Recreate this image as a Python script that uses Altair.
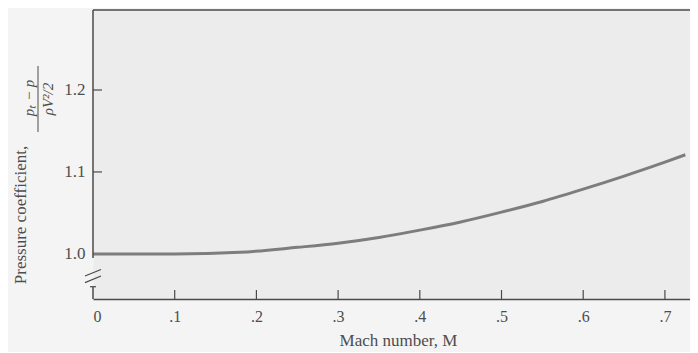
import altair as alt
import pandas as pd

# Curve
mach = [0.0, 0.10, 0.18, 0.25, 0.30, 0.35, 0.40, 0.45, 0.50, 0.55, 0.60, 0.65, 0.70, 0.725]
cp = [1.000, 1.000, 1.002, 1.008, 1.013, 1.020, 1.029, 1.039, 1.051, 1.064, 1.079, 1.095, 1.112, 1.121]

x_ticks = [0.0, 0.1, 0.2, 0.3, 0.4, 0.5, 0.6, 0.7]
x_inner_ticks = [0.1, 0.2, 0.3, 0.4, 0.5, 0.6, 0.7]
y_ticks = [1.0, 1.1, 1.2]
y_inner_ticks = [1.1, 1.2]

W, H = 597, 289
XMAX = 0.7307
YMIN, YMAX = 0.945, 1.2976
FONT = "Liberation Serif"
AX = "#4a4a4a"
TXT = "#4d4d4d"

xs = alt.Scale(domain=[0, XMAX], nice=False, zero=False)
ys = alt.Scale(domain=[YMIN, YMAX], nice=False, zero=False)

curve = pd.DataFrame({"M": mach, "Cp": cp})

line = alt.Chart(curve).mark_line(color="#7d7d7d", strokeWidth=3, interpolate="monotone").encode(
    x=alt.X("M:Q", scale=xs,
            axis=alt.Axis(values=x_ticks, format=".1f", tickSize=0, domain=True, domainColor=AX, domainWidth=1.5,
                          labelExpr="datum.value == 0 ? '0' : replace(datum.label, '0.', '.')",
                          labelFont=FONT, labelFontSize=16, labelColor=TXT, labelPadding=9,
                          grid=False, title="Mach number, M", titleFont=FONT, titleFontSize=17,
                          titleFontWeight="normal", titleColor=TXT, titlePadding=8, titleX=305)),
    y=alt.Y("Cp:Q", scale=ys,
            axis=alt.Axis(values=y_ticks, format=".1f", tickSize=0, domain=False, grid=False,
                          labelFont=FONT, labelFontSize=17, labelColor=TXT, labelPadding=8),
            title=None),
)

# inward ticks on x
xt = alt.Chart(pd.DataFrame({"t": x_inner_ticks})).mark_rule(color=AX, strokeWidth=1.2).encode(
    x=alt.X("t:Q", scale=xs), y=alt.value(H), y2=alt.value(H - 9))
# inward ticks on y
yt = alt.Chart(pd.DataFrame({"t": y_inner_ticks})).mark_rule(color=AX, strokeWidth=1.2).encode(
    y=alt.Y("t:Q", scale=ys), x=alt.value(0), x2=alt.value(9))

base = alt.Chart(pd.DataFrame({"a": [0]}))
# top border
top = base.mark_rule(color=AX, strokeWidth=1.5).encode(x=alt.value(0), x2=alt.value(W), y=alt.value(0))
# left axis with break
left_up = base.mark_rule(color=AX, strokeWidth=1.5).encode(
    x=alt.value(0), y=alt.datum(YMAX, scale=ys), y2=alt.datum(0.995))
left_low = base.mark_rule(color=AX, strokeWidth=1.5).encode(
    x=alt.value(0), y=alt.datum(0.960, scale=ys), y2=alt.datum(YMIN))
cap = base.mark_rule(color=AX, strokeWidth=1.2).encode(
    x=alt.value(-3), x2=alt.value(3), y=alt.datum(0.960, scale=ys))
slash1 = base.mark_rule(color=AX, strokeWidth=1.2).encode(
    x=alt.value(-8), x2=alt.value(8), y=alt.datum(0.973, scale=ys), y2=alt.datum(0.981))
slash2 = base.mark_rule(color=AX, strokeWidth=1.2).encode(
    x=alt.value(-8), x2=alt.value(8), y=alt.datum(0.965, scale=ys), y2=alt.datum(0.973))

# y title: text + fraction
ytitle = base.mark_text(font=FONT, fontSize=17, angle=270, color=TXT, align="center", baseline="middle").encode(
    x=alt.value(-72), y=alt.value(205), text=alt.value("Pressure coefficient,"))
num = base.mark_text(font=FONT, fontSize=15, angle=270, color=TXT, align="center", baseline="middle",
                     fontStyle="italic").encode(
    x=alt.value(-64), y=alt.value(88), text=alt.value("pₜ − p"))
bar = base.mark_rule(color=TXT, strokeWidth=1).encode(
    x=alt.value(-55), y=alt.value(56), y2=alt.value(122))
den = base.mark_text(font=FONT, fontSize=15, angle=270, color=TXT, align="center", baseline="middle",
                     fontStyle="italic").encode(
    x=alt.value(-45), y=alt.value(89), text=alt.value("ρV²/2"))

chart = alt.layer(line, xt, yt, top, left_up, left_low, cap, slash1, slash2, ytitle, num, bar, den).properties(
    width=W, height=H,
    autosize=alt.AutoSizeParams(type="none"),
    padding={"left": 85, "top": 2, "right": 0, "bottom": 53},
    background="#f4f4f4",
).configure_view(fill="#ececec", stroke="transparent")

chart.save("out.html", embed_options={"renderer": "svg", "actions": False})
